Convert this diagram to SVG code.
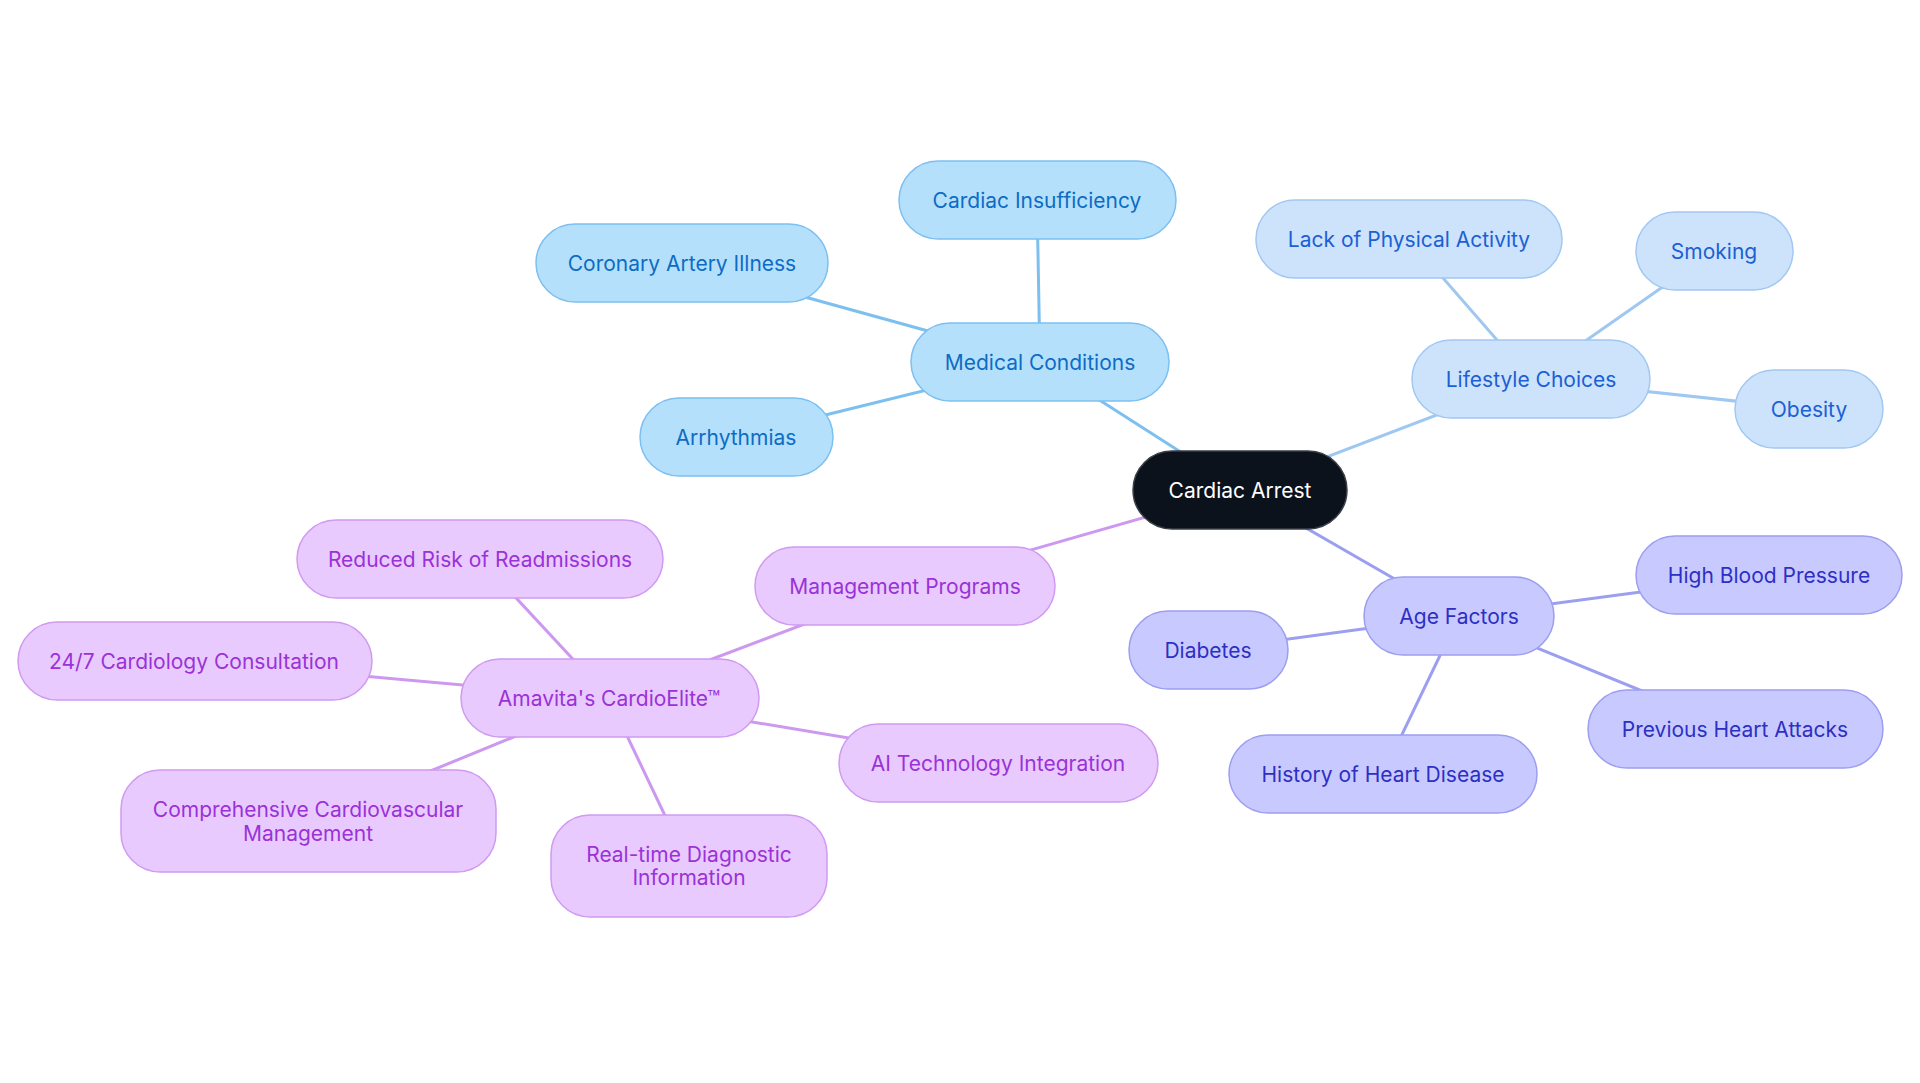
<svg xmlns="http://www.w3.org/2000/svg" width="1920" height="1083" viewBox="0 0 1920 1083">
<style>
text{font-family:Inter,"Noto Sans","Liberation Sans",sans-serif;font-size:21px;text-anchor:middle;dominant-baseline:central}
.root rect{fill:#0c121c;stroke:#3a3f48;stroke-width:1.5}
.root text{fill:#ffffff}
.b rect{fill:#b5e0fc;stroke:#7dbff0;stroke-width:1.5}
.b text{fill:#0d6cc4}
.l rect{fill:#cde3fb;stroke:#a2c8f2;stroke-width:1.5}
.l text{fill:#1b60d4}
.a rect{fill:#c8caff;stroke:#9c9ef0;stroke-width:1.5}
.a text{fill:#2d2fc4}
.p rect{fill:#e9cafe;stroke:#d09af1;stroke-width:1.5}
.p text{fill:#9a32d8}
.e line{stroke-width:3;fill:none}
.eb{stroke:#7dc0ef}
.el{stroke:#9ec7f1}
.ea{stroke:#9c9ef0}
.ep{stroke:#cd98ef}
</style>
<rect width="1920" height="1083" fill="#ffffff"/>
<g id="connectors" class="e">
<line class="eb" x1="1240" y1="490" x2="1040" y2="362"/>
<line class="eb" x1="1040" y1="362" x2="1037" y2="200"/>
<line class="eb" x1="1040" y1="362" x2="682" y2="263"/>
<line class="eb" x1="1040" y1="362" x2="736" y2="437"/>
<line class="el" x1="1240" y1="490" x2="1531" y2="379"/>
<line class="el" x1="1531" y1="379" x2="1409" y2="239"/>
<line class="el" x1="1531" y1="379" x2="1714" y2="251"/>
<line class="el" x1="1531" y1="379" x2="1809" y2="409"/>
<line class="ea" x1="1240" y1="490" x2="1459" y2="616"/>
<line class="ea" x1="1459" y1="616" x2="1769" y2="575"/>
<line class="ea" x1="1459" y1="616" x2="1208" y2="650"/>
<line class="ea" x1="1459" y1="616" x2="1383" y2="774"/>
<line class="ea" x1="1459" y1="616" x2="1735" y2="729"/>
<line class="ep" x1="1240" y1="490" x2="905" y2="586"/>
<line class="ep" x1="905" y1="586" x2="609" y2="698"/>
<line class="ep" x1="609" y1="698" x2="480" y2="559"/>
<line class="ep" x1="609" y1="698" x2="194" y2="661"/>
<line class="ep" x1="609" y1="698" x2="308" y2="821"/>
<line class="ep" x1="609" y1="698" x2="689" y2="866"/>
<line class="ep" x1="609" y1="698" x2="998" y2="763"/>
</g>
<g id="n-root" class="root"><rect x="1133" y="451" width="214" height="78" rx="39"/><text x="1240" y="490">Cardiac Arrest</text></g>
<g id="n-medical" class="b"><rect x="911" y="323" width="258" height="78" rx="39"/><text x="1040" y="362">Medical Conditions</text></g>
<g id="n-insuff" class="b"><rect x="899" y="161" width="277" height="78" rx="39"/><text x="1037" y="200">Cardiac Insufficiency</text></g>
<g id="n-coronary" class="b"><rect x="536" y="224" width="292" height="78" rx="39"/><text x="682" y="263">Coronary Artery Illness</text></g>
<g id="n-arrhythmias" class="b"><rect x="640" y="398" width="193" height="78" rx="39"/><text x="736" y="437">Arrhythmias</text></g>
<g id="n-lifestyle" class="l"><rect x="1412" y="340" width="238" height="78" rx="39"/><text x="1531" y="379">Lifestyle Choices</text></g>
<g id="n-physical" class="l"><rect x="1256" y="200" width="306" height="78" rx="39"/><text x="1409" y="239">Lack of Physical Activity</text></g>
<g id="n-smoking" class="l"><rect x="1636" y="212" width="157" height="78" rx="39"/><text x="1714" y="251">Smoking</text></g>
<g id="n-obesity" class="l"><rect x="1735" y="370" width="148" height="78" rx="39"/><text x="1809" y="409">Obesity</text></g>
<g id="n-age" class="a"><rect x="1364" y="577" width="190" height="78" rx="39"/><text x="1459" y="616">Age Factors</text></g>
<g id="n-hbp" class="a"><rect x="1636" y="536" width="266" height="78" rx="39"/><text x="1769" y="575">High Blood Pressure</text></g>
<g id="n-diabetes" class="a"><rect x="1129" y="611" width="159" height="78" rx="39"/><text x="1208" y="650">Diabetes</text></g>
<g id="n-history" class="a"><rect x="1229" y="735" width="308" height="78" rx="39"/><text x="1383" y="774">History of Heart Disease</text></g>
<g id="n-previous" class="a"><rect x="1588" y="690" width="295" height="78" rx="39"/><text x="1735" y="729">Previous Heart Attacks</text></g>
<g id="n-management" class="p"><rect x="755" y="547" width="300" height="78" rx="39"/><text x="905" y="586">Management Programs</text></g>
<g id="n-amavita" class="p"><rect x="461" y="659" width="298" height="78" rx="39"/><text x="609" y="698">Amavita's CardioElite™</text></g>
<g id="n-readmissions" class="p"><rect x="297" y="520" width="366" height="78" rx="39"/><text x="480" y="559">Reduced Risk of Readmissions</text></g>
<g id="n-consult" class="p"><rect x="18" y="622" width="354" height="78" rx="39"/><text x="194" y="661">24/7 Cardiology Consultation</text></g>
<g id="n-comprehensive" class="p"><rect x="121" y="770" width="375" height="102" rx="39"/><text x="308" y="809">Comprehensive Cardiovascular</text><text x="308" y="833">Management</text></g>
<g id="n-realtime" class="p"><rect x="551" y="815" width="276" height="102" rx="39"/><text x="689" y="854">Real-time Diagnostic</text><text x="689" y="877">Information</text></g>
<g id="n-ai" class="p"><rect x="839" y="724" width="319" height="78" rx="39"/><text x="998" y="763">AI Technology Integration</text></g>
</svg>
